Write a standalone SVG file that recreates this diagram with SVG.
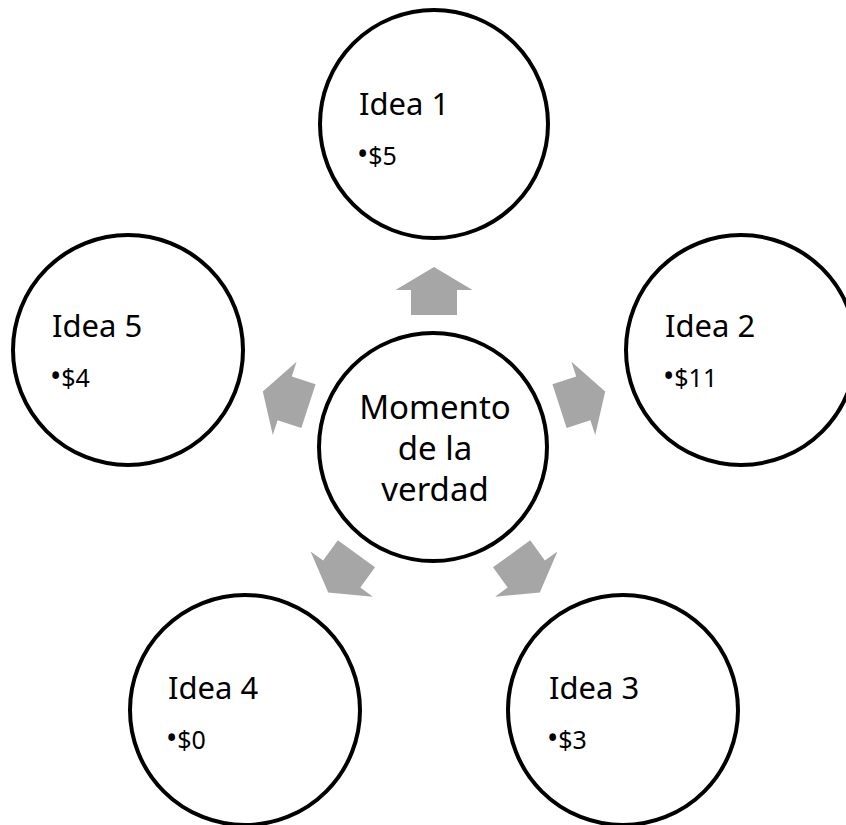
<svg xmlns="http://www.w3.org/2000/svg" width="846" height="825" viewBox="0 0 846 825">
<defs>
<style>
.node{fill:#ffffff;stroke:#000000;stroke-width:4}
.arrow{fill:#a6a6a6;stroke:none}
.title{font-family:"Noto Sans","Open Sans",sans-serif;font-size:31px;fill:#000000}
.item{font-family:"Noto Sans","Open Sans",sans-serif;font-size:25px;fill:#000000}
.bul{font-size:30px}
.center{font-family:"Noto Sans","Open Sans",sans-serif;font-size:33px;fill:#000000;text-anchor:middle}
</style>
<polygon id="arr" class="arrow" points="0,-180 38.5,-157 23,-157 23,-132 -23,-132 -23,-157 -38.5,-157"/>
</defs>
<rect width="846" height="825" fill="#ffffff"/>
<g id="connectors" transform="translate(434,447)">
<use href="#arr" transform="rotate(0)"/>
<use href="#arr" transform="rotate(72)"/>
<use href="#arr" transform="rotate(144)"/>
<use href="#arr" transform="rotate(216)"/>
<use href="#arr" transform="rotate(288)"/>
</g>
<g id="center">
<circle class="node" cx="433" cy="447" r="114"/>
<text class="center" x="435" y="419">Momento</text>
<text class="center" x="435" y="460">de la</text>
<text class="center" x="435" y="501">verdad</text>
</g>
<g id="idea1">
<circle class="node" cx="434" cy="124" r="114"/>
<text class="title" x="359" y="115">Idea 1</text>
<text class="item" x="357" y="165"><tspan class="bul">•</tspan>$5</text>
</g>
<g id="idea2">
<circle class="node" cx="741" cy="350" r="115"/>
<text class="title" x="665" y="337">Idea 2</text>
<text class="item" x="663" y="387"><tspan class="bul">•</tspan>$11</text>
</g>
<g id="idea3">
<circle class="node" cx="623" cy="710" r="115"/>
<text class="title" x="549" y="699">Idea 3</text>
<text class="item" x="547" y="749"><tspan class="bul">•</tspan>$3</text>
</g>
<g id="idea4">
<circle class="node" cx="245" cy="710" r="115"/>
<text class="title" x="168" y="699">Idea 4</text>
<text class="item" x="166" y="749"><tspan class="bul">•</tspan>$0</text>
</g>
<g id="idea5">
<circle class="node" cx="128" cy="350" r="115"/>
<text class="title" x="52" y="337">Idea 5</text>
<text class="item" x="50" y="387"><tspan class="bul">•</tspan>$4</text>
</g>
</svg>
